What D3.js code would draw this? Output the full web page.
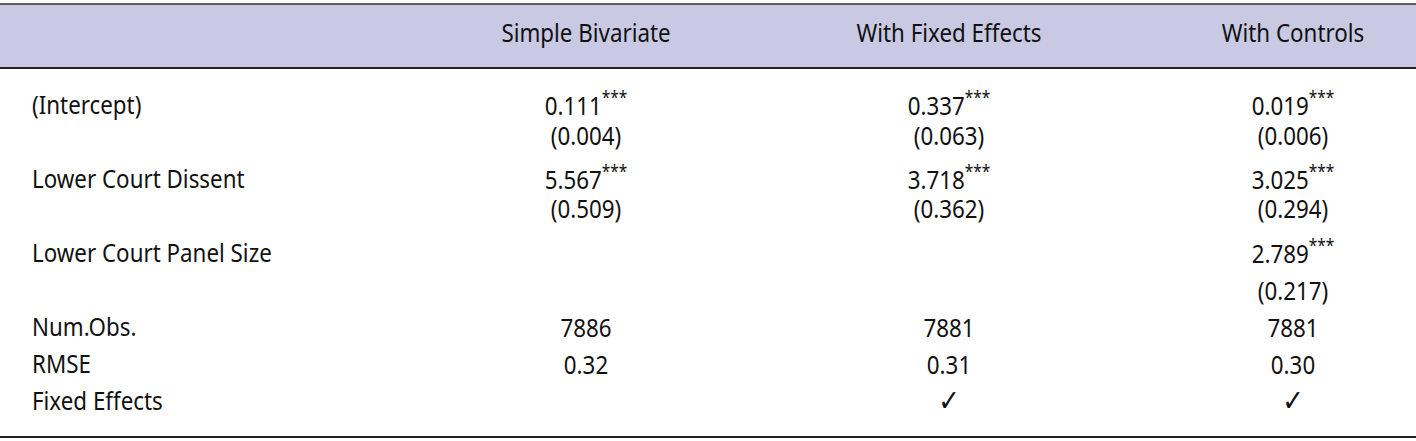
<!DOCTYPE html>
<html><head><meta charset="utf-8">
<script src="https://cdn.jsdelivr.net/npm/d3@7"></script>
<style>body{margin:0;background:#fff}</style>
</head><body>
<svg id="t" width="1416" height="441"></svg>
<script>
var columns = ['Simple Bivariate', 'With Fixed Effects', 'With Controls']
var rowLabels = ['(Intercept)', '', 'Lower Court Dissent', '', 'Lower Court Panel Size', '', 'Num.Obs.', 'RMSE', 'Fixed Effects']
var col1 = ['0.111***', '(0.004)', '5.567***', '(0.509)', '', '', '7886', '0.32', '']
var col2 = ['0.337***', '(0.063)', '3.718***', '(0.362)', '', '', '7881', '0.31', '✓']
var col3 = ['0.019***', '(0.006)', '3.025***', '(0.294)', '2.789***', '(0.217)', '7881', '0.30', '✓']

var svg = d3.select('#t'),
    font = "'Noto Sans', sans-serif",
    squeeze = 0.86,
    cols = [col1, col2, col3]

var x = d3.scaleOrdinal().domain(columns).range([586, 949, 1293])
var rowY = [104, 134, 178, 207, 252, 289, 326, 363, 400]
var y = d3.scaleOrdinal().domain(d3.range(rowLabels.length)).range(rowY)

svg.append('rect').attr('x', 0).attr('y', 4).attr('width', 1416).attr('height', 64).attr('fill', '#c9c9e3')
svg.append('line').attr('x1', 0).attr('x2', 1416).attr('y1', 4).attr('y2', 4).attr('stroke', '#333').attr('stroke-width', 1.5)
svg.append('line').attr('x1', 0).attr('x2', 1416).attr('y1', 68).attr('y2', 68).attr('stroke', '#222').attr('stroke-width', 2)
svg.append('line').attr('x1', 0).attr('x2', 1416).attr('y1', 437).attr('y2', 437).attr('stroke', '#222').attr('stroke-width', 2)

function put(sel, anchor) {
  sel.attr('text-anchor', anchor).attr('dominant-baseline', 'central')
    .style('font-family', font).style('font-size', '26px').attr('fill', '#111')
}

svg.selectAll('text.head').data(columns).enter().append('text')
  .attr('class', 'head')
  .attr('transform', function(d) { return 'translate(' + x(d) + ',32) scale(' + squeeze + ',1)' })
  .call(put, 'middle')
  .text(function(d) { return d })

svg.selectAll('text.label').data(rowLabels).enter().append('text')
  .attr('class', 'label')
  .attr('transform', function(d, i) { return 'translate(32,' + y(i) + ') scale(' + squeeze + ',1)' })
  .call(put, 'start')
  .text(function(d) { return d })

cols.forEach(function(c, ci) {
  var t = svg.selectAll('text.c' + ci).data(c).enter().append('text')
    .attr('class', 'c' + ci)
    .attr('transform', function(d, i) { return 'translate(' + x(columns[ci]) + ',' + y(i) + ') scale(' + squeeze + ',1)' })
    .call(put, 'middle')
  t.each(function(d) {
    var el = d3.select(this)
    if (d === '✓') {
      el.append('tspan').style('font-size', '30px').style('font-family', "'DejaVu Sans', sans-serif").text(d)
      return
    }
    var m = d.match(/^(.*?)(\**)$/)
    el.append('tspan').text(m[1])
    if (m[2]) el.append('tspan').attr('dy', -8).style('font-size', '18px').text(m[2])
  })
})
</script>
</body></html>
